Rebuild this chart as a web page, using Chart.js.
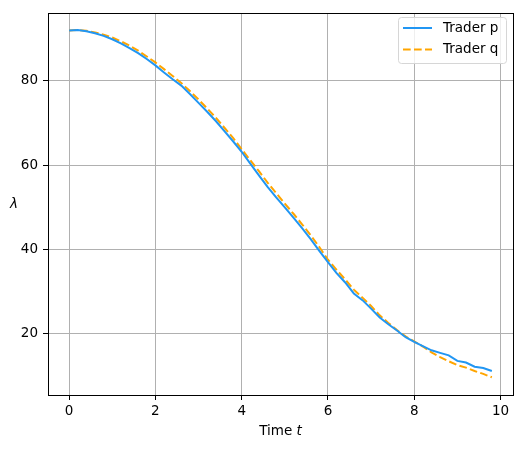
<!DOCTYPE html>
<html>
<head>
<meta charset="utf-8">
<script src="https://cdn.jsdelivr.net/npm/chart.js@4.4.1/dist/chart.umd.min.js"></script>
<style>
  html, body { margin: 0; padding: 0; background: #fff; }
  #wrap { width: 522px; height: 449px; }
</style>
</head>
<body>
<div id="wrap"><canvas id="chart" width="522" height="449"></canvas></div>
<script>
// Data
const times = [0, 0.2, 0.4, 0.6, 0.8, 1.0, 1.2, 1.4, 1.6, 1.8,
               2.0, 2.2, 2.4, 2.6, 2.8, 3.0, 3.2, 3.4, 3.6, 3.8,
               4.0, 4.2, 4.4, 4.6, 4.8, 5.0, 5.2, 5.4, 5.6, 5.8,
               6.0, 6.2, 6.4, 6.6, 6.8, 7.0, 7.2, 7.4, 7.6, 7.8,
               8.0, 8.2, 8.4, 8.6, 8.8, 9.0, 9.2, 9.4, 9.6, 9.8];

const traderP = [92.0, 92.1, 91.8, 91.3, 90.7, 89.9, 88.9, 87.8, 86.6, 85.2,
                 83.7, 82.0, 80.4, 78.9, 76.9, 74.8, 72.7, 70.5, 68.1, 65.7,
                 63.2, 60.4, 57.6, 54.9, 52.4, 50.0, 47.6, 45.1, 42.5, 39.7,
                 37.0, 34.4, 32.2, 29.6, 28.0, 26.0, 23.9, 22.3, 20.8, 19.2,
                 18.1, 17.1, 16.1, 15.5, 14.9, 13.6, 13.2, 12.2, 11.9, 11.2];

const traderQ = [92.0, 92.1, 91.9, 91.5, 91.0, 90.3, 89.4, 88.4, 87.2, 85.8,
                 84.4, 82.8, 81.2, 79.5, 77.6, 75.6, 73.5, 71.3, 68.9, 66.5,
                 63.8, 61.2, 58.6, 55.9, 53.4, 50.9, 48.5, 46.0, 43.4, 40.6,
                 37.6, 35.2, 32.9, 30.5, 28.6, 26.6, 24.4, 22.6, 20.9, 19.4,
                 18.2, 17.0, 15.6, 14.5, 13.5, 12.6, 12.0, 11.2, 10.5, 9.7];

const seriesLabels = ['Trader p', 'Trader q'];
const xTicks = [0, 2, 4, 6, 8, 10];
const yTicks = [20, 40, 60, 80];

const FONT = "'DejaVu Sans', sans-serif";
const BLUE = '#2196f3';
const ORANGE = '#ffa500';

// Frame, axis labels and legend drawn in matplotlib style
const decorPlugin = {
    id: 'decor',
    afterDraw(chart) {
        const ctx = chart.ctx;
        const area = chart.chartArea;
        ctx.save();

        // Axes frame
        ctx.strokeStyle = '#000';
        ctx.lineWidth = 1;
        ctx.strokeRect(Math.round(area.left) + 0.5, Math.round(area.top) + 0.5,
            Math.round(area.right - area.left), Math.round(area.bottom - area.top));

        // x label: "Time t" with italic t
        ctx.fillStyle = '#000';
        ctx.textBaseline = 'middle';
        const normal = '13.5px ' + FONT;
        const italic = 'oblique 13.5px ' + FONT;
        ctx.font = normal;
        const w1 = ctx.measureText('Time ').width;
        ctx.font = italic;
        const w2 = ctx.measureText('t').width;
        const cx = (area.left + area.right) / 2;
        let x0 = cx - (w1 + w2) / 2;
        ctx.textAlign = 'left';
        ctx.font = normal;
        ctx.fillText('Time ', x0, 431);
        ctx.font = italic;
        ctx.fillText('t', x0 + w1, 431);

        // y label: upright lambda
        ctx.font = 'oblique 13.5px ' + FONT;
        ctx.textAlign = 'center';
        ctx.fillText('\u03bb', 14, (area.top + area.bottom) / 2);

        // Legend
        const bx = 398, by = 17, bw = 108, bh = 46, r = 3;
        ctx.beginPath();
        ctx.roundRect(bx + 0.5, by + 0.5, bw, bh, r);
        ctx.fillStyle = 'rgba(255,255,255,0.8)';
        ctx.fill();
        ctx.strokeStyle = '#d6d6d6';
        ctx.stroke();

        chart.data.datasets.forEach((ds, i) => {
            const ly = 28 + i * 21.5;
            ctx.beginPath();
            ctx.strokeStyle = ds.borderColor;
            ctx.lineWidth = 2;
            ctx.setLineDash(ds.borderDash || []);
            ctx.moveTo(403, ly);
            ctx.lineTo(432, ly);
            ctx.stroke();
            ctx.setLineDash([]);
            ctx.fillStyle = '#000';
            ctx.font = normal;
            ctx.textAlign = 'left';
            ctx.textBaseline = 'middle';
            ctx.fillText(ds.label, 443, ly);
        });

        ctx.restore();
    }
};

new Chart(document.getElementById('chart'), {
    type: 'line',
    data: {
        datasets: [
            {
                label: seriesLabels[0],
                data: times.map((t, i) => ({ x: t, y: traderP[i] })),
                borderColor: BLUE,
                borderWidth: 2,
                pointRadius: 0,
                tension: 0,
                fill: false
            },
            {
                label: seriesLabels[1],
                data: times.map((t, i) => ({ x: t, y: traderQ[i] })),
                borderColor: ORANGE,
                borderWidth: 2,
                borderDash: [7.7, 3.3],
                pointRadius: 0,
                tension: 0,
                fill: false
            }
        ]
    },
    options: {
        responsive: false,
        animation: false,
        layout: { padding: { top: 10, right: 9, left: 0, bottom: 0 } },
        plugins: {
            legend: { display: false },
            tooltip: { enabled: false }
        },
        scales: {
            x: {
                type: 'linear',
                min: -0.49,
                max: 10.29,
                afterBuildTicks: (axis) => { axis.ticks = xTicks.map(v => ({ value: v })); },
                afterFit: (axis) => { axis.height = 54; },
                border: { display: false },
                grid: { color: '#b0b0b0', lineWidth: 1, tickColor: '#000', tickLength: 5 },
                ticks: {
                    color: '#000',
                    font: { family: FONT, size: 13.5 },
                    padding: 3,
                    maxRotation: 0
                }
            },
            y: {
                type: 'linear',
                min: 5.5,
                max: 96.1,
                afterBuildTicks: (axis) => { axis.ticks = yTicks.map(v => ({ value: v })); },
                afterFit: (axis) => { axis.width = 48; },
                border: { display: false },
                grid: { color: '#b0b0b0', lineWidth: 1, tickColor: '#000', tickLength: 5 },
                ticks: {
                    color: '#000',
                    font: { family: FONT, size: 13.5 },
                    padding: 5
                }
            }
        }
    },
    plugins: [decorPlugin]
});
</script>
</body>
</html>
